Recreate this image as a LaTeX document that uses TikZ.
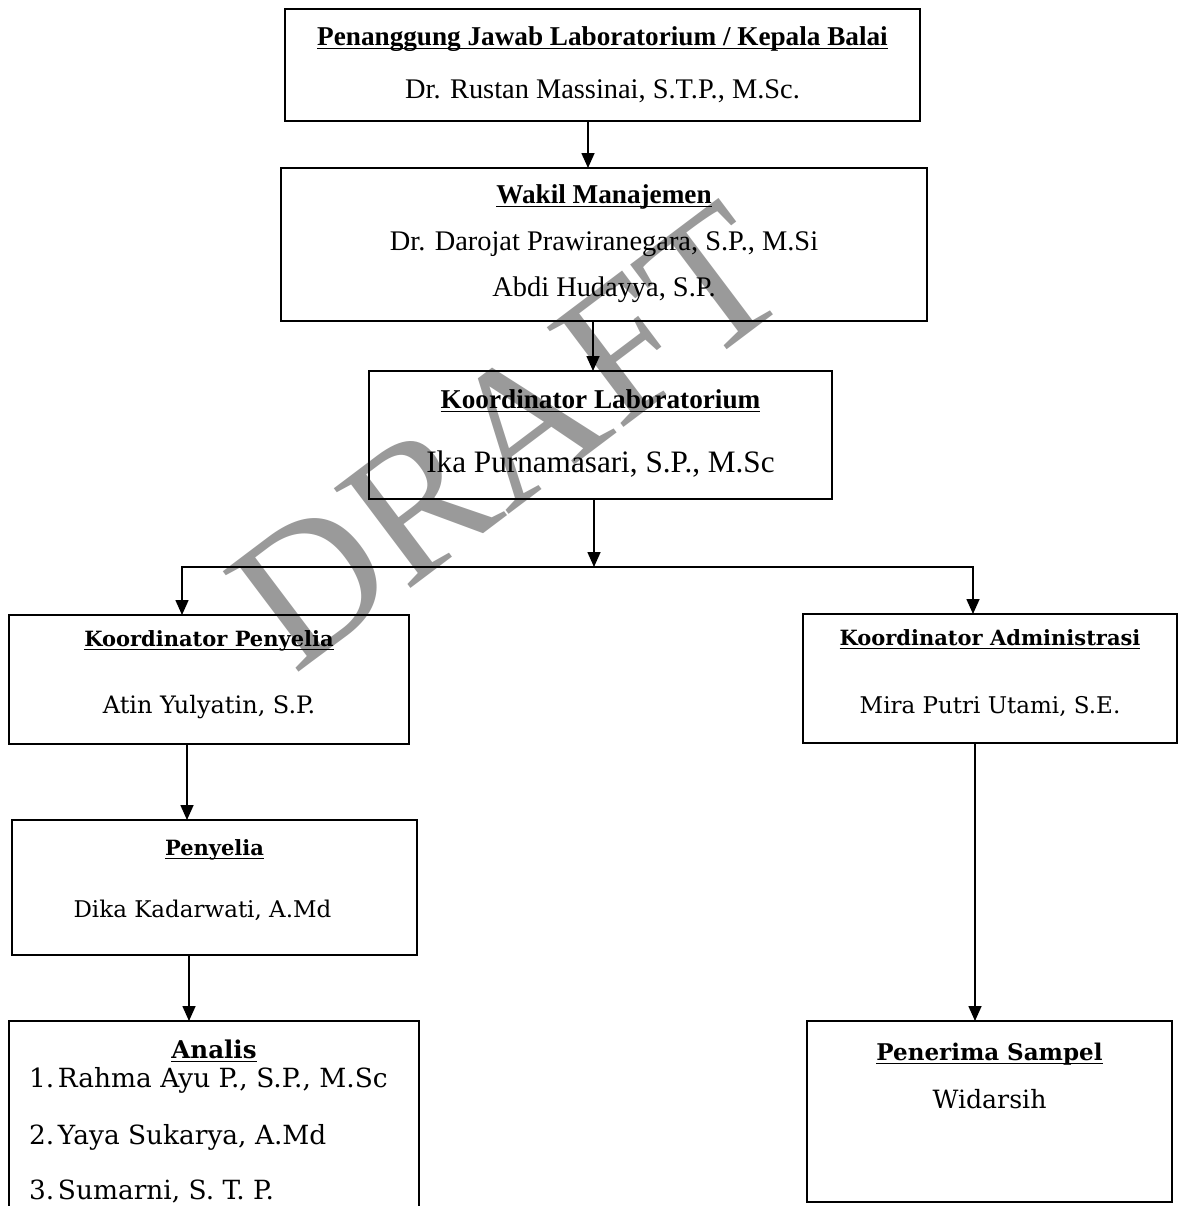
\documentclass[tikz,border=0pt]{standalone}
\usepackage{fontspec}
\setmainfont{Liberation Serif}
\newfontfamily\bookish{DejaVu Serif}
\usetikzlibrary{arrows.meta}
\definecolor{washout}{HTML}{9A9A9A}
\newsavebox\headbox
\newcommand{\heading}[1]{\sbox\headbox{\bfseries #1}\rlap{\rule[-2.2pt]{\wd\headbox}{0.8pt}}\usebox\headbox}
\newcommand{\tophead}{\fontsize{13.6}{20}\selectfont}
\newcommand{\lowhead}{\fontsize{10.5}{20}\selectfont}
\newcommand{\analitem}[2]{\makebox[185pt][l]{\makebox[14.5pt][l]{#1}#2}}
\tikzset{box/.style={draw,line width=1pt,inner sep=0pt,outer sep=0pt,align=center,anchor=base},
  topfont/.style={font=\fontsize{14.2}{20}\selectfont},
  lowfont/.style={font=\bookish\fontsize{11.5}{20}\selectfont},
  flow/.style={-{Triangle[length=7.5pt,width=6.5pt]},line width=0.8pt}}

\begin{document}
\begin{tikzpicture}[x=0.5pt,y=-0.5pt]
\useasboundingbox (0,0) rectangle (1179,1206);
\clip (0,0) rectangle (1179,1206);
% watermark behind everything
\node[rotate=37,text=washout,font=\fontsize{96}{96}\selectfont] (wm) at (508,436) {DRAFT};
% upper chain (nodes sit on their last baseline)
\node[box,topfont,minimum width=317.5pt,text height=44.5pt,text depth=11.5pt] (kepala) at (602.5,98)
  {{\tophead\heading{Penanggung Jawab Laboratorium / Kepala Balai}}\\[6.5pt]
   Dr. Rustan Massinai, S.T.P., M.Sc.};
\node[box,topfont,minimum width=323pt,text height=64pt,text depth=12.5pt] (wakil) at (604,296)
  {{\tophead\heading{Wakil Manajemen}}\\[3.5pt]
   Dr. Darojat Prawiranegara, S.P., M.Si\\[3pt]
   Abdi Hudayya, S.P.};
\node[box,topfont,minimum width=231.5pt,text height=50.5pt,text depth=13.5pt] (korlab) at (600.5,472)
  {{\tophead\heading{Koordinator Laboratorium}}\\[12pt]
   {\fontsize{15.6}{20}\selectfont Ika Purnamasari, S.P., M.Sc}};
% left branch
\node[box,lowfont,minimum width=200pt,text height=49pt,text depth=15.5pt] (korpen) at (209,713)
  {{\lowhead\heading{Koordinator Penyelia}}\\[13.5pt]
   {\fontsize{12}{20}\selectfont Atin Yulyatin, S.P.}};
\node[box,lowfont,minimum width=202.5pt,text height=48.5pt,text depth=19pt] (penyelia) at (214.5,917)
  {{\lowhead\heading{Penyelia}}\\[11pt]
   Dika Kadarwati, A.Md\hspace*{12pt}};
\node[box,lowfont,font=\bookish\fontsize{13.2}{20}\selectfont,minimum width=205pt,
  text height=89pt,text depth=20.5pt] (analis) at (214,1199)
  {{\fontsize{12.25}{20}\selectfont\heading{Analis}}\\[-5.5pt]
   \analitem{1.}{Rahma Ayu P., S.P., M.Sc}\\[8.5pt]
   \analitem{2.}{Yaya Sukarya, A.Md}\\[7.5pt]
   \analitem{3.}{Sumarni, S. T. P.}};
% right branch
\node[box,lowfont,minimum width=187pt,text height=49.5pt,text depth=15pt] (koradm) at (990,713)
  {{\lowhead\heading{Koordinator Administrasi}}\\[14pt]
   Mira Putri Utami, S.E.};
\node[box,lowfont,font=\bookish\fontsize{12.6}{20}\selectfont,minimum width=182.5pt,
  text height=43.5pt,text depth=47pt] (sampel) at (989.5,1108)
  {{\fontsize{11.5}{20}\selectfont\heading{Penerima Sampel}}\\[4pt]
   Widarsih};
% connectors
\coordinate (split) at (594,567);
\draw[flow] ([xshift=-7.25pt]kepala.south) -- ([xshift=-8pt]wakil.north);
\draw[flow] ([xshift=-5.5pt]wakil.south) -- ([xshift=-3.75pt]korlab.north);
\draw[flow] ([xshift=-3.25pt]korlab.south) -- (split);
\draw[flow] (split) -| ([xshift=-13.5pt]korpen.north);
\draw[flow] (split) -| ([xshift=-8.5pt]koradm.north);
\draw[flow] ([xshift=-11pt]korpen.south) -- ([xshift=-13.75pt]penyelia.north);
\draw[flow] ([xshift=-12.75pt]penyelia.south) -- ([xshift=-12.5pt]analis.north);
\draw[flow] ([xshift=-7.5pt]koradm.south) -- ([xshift=-7.25pt]sampel.north);
\end{tikzpicture}
\end{document}
